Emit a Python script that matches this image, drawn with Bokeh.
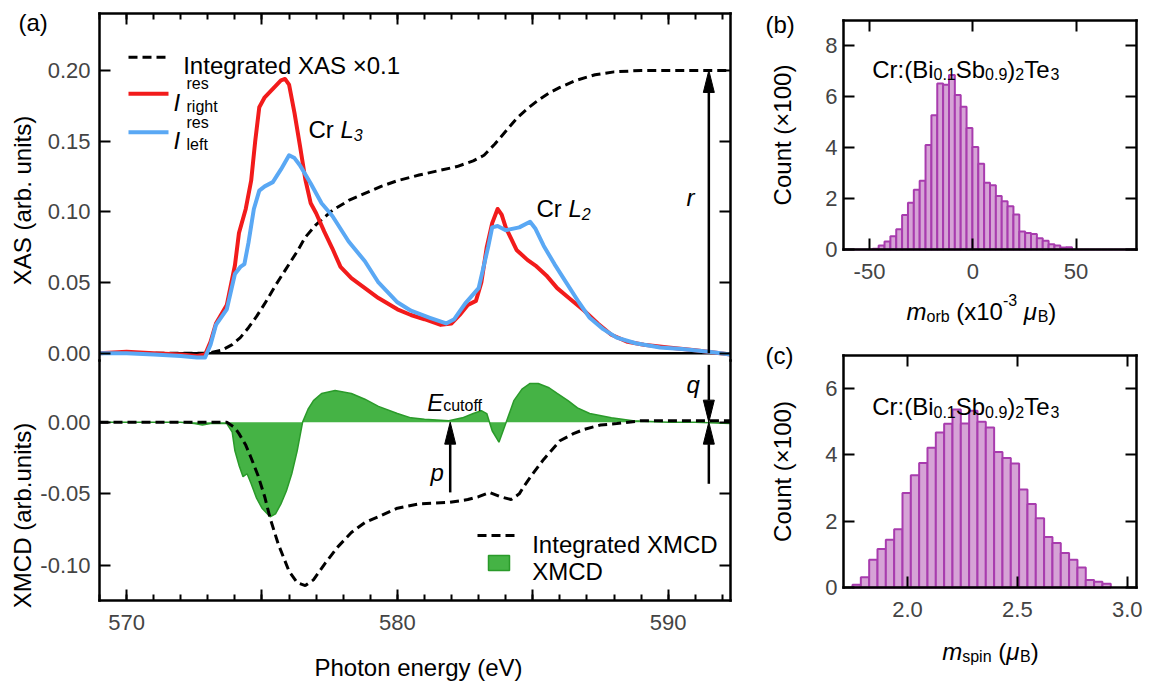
import math
from bokeh.plotting import figure
from bokeh.models import Range1d, FixedTicker, LinearAxis, Label, NumeralTickFormatter
from bokeh.embed import file_html
from bokeh.resources import INLINE

# ---------------- data ----------------
E_right = [569.0, 570.0, 571.0, 572.0, 572.6, 572.9, 573.1, 573.3, 573.7, 574.0, 574.15, 574.4, 574.6,
           574.75, 574.9, 575.1, 575.4, 575.7, 575.85, 576.0, 576.2, 576.4, 576.6, 576.8, 577.0, 577.3,
           577.6, 577.9, 578.3, 578.8, 579.3, 580.0, 580.5, 581.0, 581.6, 582.0, 582.3, 582.6, 582.9,
           583.1, 583.3, 583.5, 583.7, 583.85, 584.0, 584.4, 584.8, 585.1, 585.5, 585.9, 586.4, 586.9,
           587.4, 587.9, 588.5, 589.1, 590.0, 591.0, 592.3]
I_right = [0.000, 0.001, 0.000, -0.001, -0.002, -0.001, 0.008, 0.021, 0.034, 0.062, 0.085, 0.102, 0.122,
           0.150, 0.174, 0.181, 0.187, 0.193, 0.194, 0.190, 0.170, 0.147, 0.123, 0.106, 0.099, 0.086,
           0.074, 0.061, 0.053, 0.046, 0.039, 0.031, 0.027, 0.024, 0.020, 0.021, 0.027, 0.034, 0.037,
           0.050, 0.075, 0.092, 0.102, 0.098, 0.089, 0.073, 0.066, 0.062, 0.055, 0.046, 0.038, 0.030,
           0.021, 0.013, 0.008, 0.006, 0.004, 0.002, -0.001]

E_left = [569.0, 570.0, 571.0, 572.0, 572.6, 572.9, 573.1, 573.3, 573.7, 574.0, 574.2, 574.35, 574.5,
          574.7, 574.9, 575.1, 575.4, 575.7, 576.0, 576.2, 576.4, 576.8, 577.2, 577.6, 578.2, 578.8,
          579.3, 580.0, 580.5, 581.2, 581.8, 582.1, 582.5, 583.0, 583.35, 583.5, 583.7, 584.0, 584.5,
          584.9, 585.1, 585.4, 585.8, 586.2, 586.7, 587.1, 587.6, 588.1, 588.8, 589.7, 590.5, 591.5, 592.3]
I_left = [0.000, 0.000, -0.001, -0.002, -0.003, -0.003, 0.006, 0.020, 0.031, 0.056, 0.061, 0.063, 0.078,
          0.102, 0.115, 0.118, 0.121, 0.130, 0.140, 0.138, 0.133, 0.120, 0.106, 0.097, 0.079, 0.065,
          0.050, 0.036, 0.030, 0.025, 0.021, 0.024, 0.035, 0.046, 0.075, 0.089, 0.090, 0.087, 0.089,
          0.093, 0.088, 0.076, 0.063, 0.051, 0.036, 0.025, 0.017, 0.011, 0.007, 0.004, 0.003, 0.001, -0.001]

E_int_xas = [569.0, 573.0, 573.5, 573.9, 574.2, 574.5, 574.8, 575.1, 575.5, 575.9, 576.3, 576.6, 577.0,
             577.6, 578.2, 578.8, 579.4, 580.0, 580.8, 581.5, 582.2, 582.8, 583.2, 583.6, 584.0, 584.4,
             584.8, 585.2, 585.6, 586.0, 586.6, 587.3, 588.0, 589.0, 590.0, 592.3]
int_xas = [0.000, 0.000, 0.002, 0.006, 0.011, 0.018, 0.026, 0.035, 0.048, 0.060, 0.072, 0.082, 0.091,
           0.101, 0.108, 0.113, 0.118, 0.122, 0.126, 0.129, 0.132, 0.136, 0.140, 0.148, 0.157, 0.166,
           0.173, 0.179, 0.184, 0.188, 0.193, 0.197, 0.199, 0.200, 0.200, 0.200]

E_xmcd = [569.0, 572.0, 572.5, 572.8, 573.1, 573.7, 573.9, 574.0, 574.15, 574.3, 574.45, 574.6, 574.8,
          575.0, 575.3, 575.5, 575.7, 575.9, 576.1, 576.3, 576.5, 576.7, 576.9, 577.2, 577.7, 578.3,
          578.8, 579.3, 580.0, 580.5, 581.0, 581.9, 582.4, 582.8, 583.1, 583.3, 583.5, 583.75, 584.0,
          584.3, 584.6, 584.9, 585.2, 585.6, 585.9, 586.3, 586.65, 587.1, 587.9, 588.7, 590.0, 591.0, 592.3]
xmcd = [0.000, 0.000, -0.001, -0.002, -0.001, -0.001, -0.007, -0.020, -0.030, -0.038, -0.036, -0.043,
        -0.053, -0.060, -0.066, -0.064, -0.057, -0.048, -0.036, -0.020, 0.000, 0.009, 0.015, 0.020,
        0.022, 0.020, 0.016, 0.011, 0.006, 0.003, 0.002, 0.001, 0.003, 0.006, 0.008, 0.006, -0.006,
        -0.014, -0.001, 0.015, 0.023, 0.027, 0.027, 0.024, 0.020, 0.015, 0.010, 0.006, 0.003, 0.001,
        0.000, 0.000, -0.001]

E_int_xmcd = [569.0, 573.7, 574.0, 574.15, 574.4, 574.6, 574.85, 575.1, 575.3, 575.6, 576.0, 576.3,
              576.6, 576.9, 577.35, 577.8, 578.3, 578.8, 579.3, 580.0, 580.8, 581.9, 582.6, 583.0,
              583.4, 583.8, 584.2, 584.5, 584.7, 585.0, 585.4, 586.0, 586.5, 586.9, 587.5, 588.1, 589.0, 592.3]
int_xmcd = [0.000, 0.000, -0.004, -0.008, -0.016, -0.025, -0.037, -0.052, -0.067, -0.085, -0.104, -0.112,
            -0.114, -0.110, -0.098, -0.087, -0.077, -0.070, -0.066, -0.060, -0.057, -0.056, -0.054, -0.052,
            -0.049, -0.052, -0.054, -0.050, -0.044, -0.036, -0.026, -0.013, -0.008, -0.005, -0.002, -0.001,
            0.001, 0.001]

# histogram (b): m_orb (x1e-3 muB), counts in units of 100
morb_bin_start = -62.6
morb_bin_width = 2.838
morb_counts = [0, 0, 0, 0, 0,
               0.03, 0.16, 0.31, 0.52, 0.80, 1.36, 1.84, 2.35, 2.70, 4.11, 5.28, 6.52, 6.47, 6.86, 6.07,
               5.61, 4.78, 4.03, 3.37, 2.62, 2.53, 2.10, 1.90, 1.70, 1.38, 0.71, 0.65, 0.61, 0.44, 0.34,
               0.21, 0.16, 0.08, 0.09,
               0, 0, 0, 0, 0, 0, 0, 0, 0, 0, 0]
# histogram (c): m_spin (muB)
mspin_bin_start = 1.75
mspin_bin_width = 0.0379
mspin_counts = [0.08, 0.31, 0.84, 1.16, 1.44, 1.76, 2.85, 3.39, 3.76, 4.22, 4.68, 4.94, 5.37, 4.95, 5.33,
                5.00, 4.83, 4.09, 3.91, 3.74, 2.96, 2.52, 2.09, 1.52, 1.34, 1.04, 0.84, 0.60, 0.23, 0.17, 0.11]

xa_major = [570, 575, 580, 585, 590]
xa_minor = list(range(569, 593))
xa_labels = {575: "", 585: ""}
ytop_ticks = [0.0, 0.05, 0.10, 0.15, 0.20]
ybot_ticks = [-0.10, -0.05, 0.0]
xb_ticks = [-50, 0, 50]
yb_ticks = [0, 2, 4, 6, 8]
xc_ticks = [2.0, 2.5, 3.0]
yc_ticks = [0, 2, 4, 6]

# axis limits of each panel
A_X = (569.0, 592.3)
A_TOP_Y = (-0.0052, 0.2403)
A_BOT_Y = (-0.1244, 0.0430)
B_X = (-62.6, 79.3)
B_Y = (0.0, 9.0)
C_X = (1.709, 3.042)
C_Y = (0.0, 7.0)

# annotation arrows: (x, y_start, y_tip)
arrow_r = (591.5, 0.0, 0.2)
arrow_q = (591.5, 0.040, 0.0)
arrow_q2 = (591.5, -0.043, 0.0)
arrow_p = (581.95, -0.049, 0.0)

# ---------------- layout & style ----------------
W, H = 1149, 687
FONT = "Liberation Sans"
RED = "#F21B1B"
BLUE = "#5AA8F4"
GFILL = "#45B345"
GLINE = "#2A9A2A"
PFILL = "#D6A3D6"
PLINE = "#A83CAE"

# frames in page pixels: (left, right, top, bottom)
FR_ATOP = (99, 730, 13, 360)
FR_ABOT = (99, 730, 360, 600)
FR_B = (843, 1136, 20, 249)
FR_C = (843, 1136, 355, 587)

AW = {' ': 278, '(': 333, ')': 333, '.': 278, ':': 278, '-': 333, '×': 584, 'μ': 576,
      'A': 667, 'B': 667, 'C': 722, 'D': 722, 'E': 667, 'I': 278, 'L': 556, 'M': 833, 'S': 667,
      'T': 611, 'X': 667, 'V': 667, 'P': 667,
      'a': 556, 'b': 556, 'c': 500, 'd': 556, 'e': 556, 'f': 278, 'g': 556, 'h': 556, 'i': 222,
      'l': 222, 'm': 833, 'n': 556, 'o': 556, 'p': 556, 'q': 556, 'r': 333, 's': 500, 't': 278,
      'u': 556, 'y': 500, 'x': 500, 'k': 500}
KERN = {"Te": -1.8}


def tw(s, size):
    return sum(AW.get(ch, 556) for ch in s) * size / 1000.0 + KERN.get(s, 0.0)


def xrange_full(fr, lim):
    l, r = fr[0], fr[1]
    k = (lim[1] - lim[0]) / (r - l)
    return Range1d(lim[0] + (0 - l) * k, lim[0] + (W - l) * k)


def yrange_full(fr, lim):
    t, b = fr[2], fr[3]
    k = (lim[1] - lim[0]) / (b - t)   # data per px (upwards)
    return Range1d(lim[0] - (H - b) * k, lim[1] + t * k)


p = figure(width=W, height=H, x_range=Range1d(0, W), y_range=Range1d(H, 0),
           output_backend="svg", toolbar_location=None, x_axis_location=None, y_axis_location=None,
           min_border=0, min_border_left=0, min_border_right=0, min_border_top=0, min_border_bottom=0,
           outline_line_color=None, background_fill_color="white", border_fill_color="white")
p.xgrid.visible = False
p.ygrid.visible = False

p.extra_x_ranges = {"ax": xrange_full(FR_ATOP, A_X), "bx": xrange_full(FR_B, B_X), "cx": xrange_full(FR_C, C_X)}
p.extra_y_ranges = {"aty": yrange_full(FR_ATOP, A_TOP_Y), "aby": yrange_full(FR_ABOT, A_BOT_Y),
                    "by": yrange_full(FR_B, B_Y), "cy": yrange_full(FR_C, C_Y)}


def mk_axis(side, xn, yn, loc, bounds, ticks, minor=None, labels=True, fmt=None, overrides=None, standoff=9):
    ax = LinearAxis(x_range_name=xn, y_range_name=yn, fixed_location=loc, bounds=bounds,
                    ticker=FixedTicker(ticks=ticks, minor_ticks=minor or []))
    ax.axis_line_width = 2.5
    ax.axis_line_color = "black"
    ax.axis_line_cap = "square"
    ax.major_tick_in = 11
    ax.major_tick_out = 0
    ax.minor_tick_in = 6
    ax.minor_tick_out = 0
    ax.major_tick_line_width = 2
    ax.minor_tick_line_width = 2
    ax.major_label_text_font = FONT
    ax.major_label_text_font_size = "22px"
    ax.major_label_standoff = standoff
    if fmt is not None:
        ax.formatter = fmt
    ov = dict(overrides or {})
    if not labels:
        ov = {t: "" for t in ticks}
    if ov:
        ax.major_label_overrides = ov
    p.add_layout(ax, side)
    return ax


def frame_axes(xn, yn, xl, yl, xt, yt, xminor=None, xfmt=None, yfmt=None, xov=None, bottom=True, top=True):
    mk_axis("left", xn, yn, xl[0], yl, yt, fmt=yfmt, standoff=9 if xn == "ax" else 6)
    mk_axis("right", xn, yn, xl[1], yl, yt, labels=False)
    if bottom:
        mk_axis("below", xn, yn, yl[0], xl, xt, xminor, fmt=xfmt, overrides=xov, standoff=14)
    if top:
        mk_axis("above", xn, yn, yl[1], xl, xt, xminor, labels=False)


def lab(px, py, text, size=24, style="normal", align="left", baseline="alphabetic", angle=0.0):
    p.add_layout(Label(x=px, y=py, text=text, text_font=FONT, text_font_size=f"{size}px",
                       text_font_style=style, text_align=align, text_baseline=baseline, angle=angle,
                       text_color="black"))


def rich(px, py, parts):
    x = px
    for txt, size, style, dy in parts:
        stripped = txt.lstrip(" ")
        x += tw(" " * (len(txt) - len(stripped)), size)
        if stripped.strip():
            lab(x, py + dy, stripped, size, style)
        x += tw(stripped, size)


def arrow(fr, xlim, ylim, yn, spec, head_len=22, head_hw=5.5):
    x, ys, ytip = spec
    ppy = (fr[3] - fr[2]) / (ylim[1] - ylim[0])
    ppx = (fr[1] - fr[0]) / (xlim[1] - xlim[0])
    sgn = 1 if ytip > ys else -1
    base = ytip - sgn * head_len / ppy
    p.segment(x0=[x], y0=[ys], x1=[x], y1=[base], line_color="black", line_width=2.5,
              x_range_name="ax", y_range_name=yn)
    hw = head_hw / ppx
    p.patch(x=[x - hw, x + hw, x], y=[base, base, ytip], fill_color="black", line_color="black",
            line_width=1, x_range_name="ax", y_range_name=yn)


# ---------------- panel (a), upper: XAS ----------------
frame_axes("ax", "aty", A_X, A_TOP_Y, xa_major, ytop_ticks, xminor=xa_minor,
           yfmt=NumeralTickFormatter(format="0.00"), bottom=False)
p.line(list(A_X), [0.0, 0.0], line_color="black", line_width=2.5, x_range_name="ax", y_range_name="aty")
p.line(E_int_xas, int_xas, line_color="black", line_width=3, line_dash="9 5", x_range_name="ax", y_range_name="aty")
p.line(E_right, I_right, line_color=RED, line_width=4, line_join="round", x_range_name="ax", y_range_name="aty")
p.line(E_left, I_left, line_color=BLUE, line_width=4, line_join="round", x_range_name="ax", y_range_name="aty")
arrow(FR_ATOP, A_X, A_TOP_Y, "aty", arrow_r)

# ---------------- panel (a), lower: XMCD ----------------
frame_axes("ax", "aby", A_X, A_BOT_Y, xa_major, ybot_ticks, xminor=xa_minor,
           yfmt=NumeralTickFormatter(format="0.00"), xov=xa_labels, top=False)
p.varea(x=E_xmcd, y1=[0.0] * len(E_xmcd), y2=xmcd, fill_color=GFILL, x_range_name="ax", y_range_name="aby")
p.line(E_xmcd, xmcd, line_color=GLINE, line_width=1.5, x_range_name="ax", y_range_name="aby")
p.line(E_int_xmcd, int_xmcd, line_color="black", line_width=3, line_dash="9 5", x_range_name="ax", y_range_name="aby")
arrow(FR_ABOT, A_X, A_BOT_Y, "aby", arrow_q)
arrow(FR_ABOT, A_X, A_BOT_Y, "aby", arrow_q2)
arrow(FR_ABOT, A_X, A_BOT_Y, "aby", arrow_p)

# legends and annotations of (a), page-pixel positions
p.line([128, 168], [56.7, 56.7], line_color="black", line_width=3, line_dash="9 5")
lab(182.7, 65.0, "Integrated XAS ×0.1")
for ly, col, sub in [(93.3, RED, "right"), (131.7, BLUE, "left")]:
    p.line([128, 168], [ly, ly], line_color=col, line_width=4)
    lab(173, ly + 8.5, "I", 24, "italic")
    lab(186, ly - 10, "res", 16)
    lab(186, ly + 12.5, sub, 16)
rich(308, 129, [("Cr ", 24, "normal", 0), ("L", 24, "italic", 0), ("3", 16, "italic", 5)])
rich(536, 208.3, [("Cr ", 24, "normal", 0), ("L", 24, "italic", 0), ("2", 16, "italic", 5)])
lab(686, 196.7, "r", 24, "italic")
lab(686, 384, "q", 24, "italic")
lab(430, 472, "p", 24, "italic")
rich(426.7, 401.7, [("E", 24, "italic", 0), ("cutoff", 16, "normal", 3.5)])
p.line([477, 517], [535, 535], line_color="black", line_width=3, line_dash="9 5")
lab(531.7, 543.5, "Integrated XMCD")
p.quad(left=[488], right=[509], top=[555], bottom=[570], fill_color=GFILL, line_color=GLINE, line_width=1.5)
lab(531.7, 570.5, "XMCD")
lab(18, 22, "(a)", 24)
lab(22, 200, "XAS (arb. units)", 24, angle=math.pi / 2, align="center", baseline="middle")
lab(22, 515, "XMCD (arb.units)", 24, angle=math.pi / 2, align="center", baseline="middle")
lab(418, 667, "Photon energy (eV)", 24, align="center", baseline="middle")

# ---------------- panel (b) ----------------
frame_axes("bx", "by", B_X, B_Y, xb_ticks, yb_ticks, xfmt=NumeralTickFormatter(format="0"))
lb = [morb_bin_start + i * morb_bin_width for i in range(len(morb_counts))]
p.quad(left=lb, right=[v + morb_bin_width for v in lb], top=morb_counts, bottom=0,
       fill_color=PFILL, line_color=PLINE, line_width=2, x_range_name="bx", y_range_name="by")
formula = [("Cr:(Bi", 24, "normal", 0), ("0.1", 16, "normal", 5), ("Sb", 24, "normal", 0),
           ("0.9", 16, "normal", 5), (")", 24, "normal", 0), ("2", 16, "normal", 5),
           ("Te", 24, "normal", 0), ("3", 16, "normal", 5)]
rich(871.7, 68.5, formula)
rich(906, 311, [("m", 24, "italic", 0), ("orb", 16, "normal", 5), (" (x10", 24, "normal", 0),
                ("-3", 16, "normal", -12), (" ", 24, "normal", 0), ("μ", 24, "italic", 0),
                ("B", 16, "normal", 5), (")", 24, "normal", 0)])
lab(765, 24, "(b)", 24)
lab(782, 134.5, "Count (×100)", 24, angle=math.pi / 2, align="center", baseline="middle")

# ---------------- panel (c) ----------------
frame_axes("cx", "cy", C_X, C_Y, xc_ticks, yc_ticks, xfmt=NumeralTickFormatter(format="0.0"))
lc = [mspin_bin_start + i * mspin_bin_width for i in range(len(mspin_counts))]
p.quad(left=lc, right=[v + mspin_bin_width for v in lc], top=mspin_counts, bottom=0,
       fill_color=PFILL, line_color=PLINE, line_width=2, x_range_name="cx", y_range_name="cy")
rich(871.7, 406, formula)
rich(941.7, 651, [("m", 24, "italic", 0), ("spin", 16, "normal", 5), (" (", 24, "normal", 0),
                  ("μ", 24, "italic", 0), ("B", 16, "normal", 5), (")", 24, "normal", 0)])
lab(765, 355, "(c)", 24)
lab(782, 471, "Count (×100)", 24, angle=math.pi / 2, align="center", baseline="middle")

open("out.html", "w").write(file_html(p, INLINE))
